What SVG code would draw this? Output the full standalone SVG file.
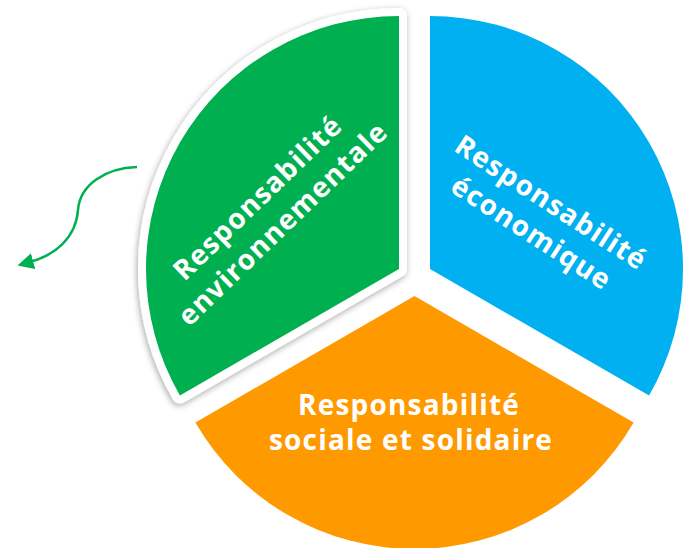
<svg xmlns="http://www.w3.org/2000/svg" width="684" height="548" viewBox="0 0 684 548">
  <defs>
    <filter id="shadow" x="-20%" y="-20%" width="140%" height="140%">
      <feDropShadow dx="-1" dy="2" stdDeviation="3" flood-color="#000" flood-opacity="0.35"/>
    </filter>
    <marker id="arrow" viewBox="0 0 10 10" refX="2" refY="5" markerWidth="6.5" markerHeight="6.5" markerUnits="strokeWidth" orient="auto">
      <path d="M0,0 L10,5 L0,10 Z" fill="#00B050"/>
    </marker>
  </defs>
  <style>
    .lbl { font-family: "Open Sans", "Liberation Sans", sans-serif; font-weight: 700; font-size: 28px; letter-spacing: 1.2px; fill: #fff; text-anchor: middle; }
  </style>
  <rect width="684" height="548" fill="#fff"/>

  <g id="connectors">
    <path d="M137,167 C105,168 80,185 78,210 C76,238 55,255 30,262" fill="none" stroke="#00B050" stroke-width="2.5" marker-end="url(#arrow)"/>
  </g>

  <g id="eco">
    <path d="M430,269 L430,16 A253,253 0 0 1 649.1,395.5 Z" fill="#00B0F0"/>
    <g transform="translate(541.5,217.5) rotate(33)">
      <text class="lbl" x="0" y="-8">Responsabilité</text>
      <text class="lbl" x="0" y="28">économique</text>
    </g>
  </g>

  <g id="social">
    <path d="M414.5,296 L633.6,422.5 A253,253 0 0 1 195.4,422.5 Z" fill="#FF9900"/>
    <text class="lbl" x="409" y="415">Responsabilité</text>
    <text class="lbl" x="411" y="450">sociale et solidaire</text>
  </g>

  <g id="env">
    <path d="M399,269 L179.9,395.5 A253,253 0 0 1 399,16 Z" fill="#fff" stroke="#fff" stroke-width="16" stroke-linejoin="round" filter="url(#shadow)"/>
    <path d="M399,269 L179.9,395.5 A253,253 0 0 1 399,16 Z" fill="#00B050"/>
    <g transform="translate(270,210.5) rotate(-44)">
      <text class="lbl" x="0" y="-8">Responsabilité</text>
      <text class="lbl" x="0" y="28">environnementale</text>
    </g>
  </g>
</svg>
